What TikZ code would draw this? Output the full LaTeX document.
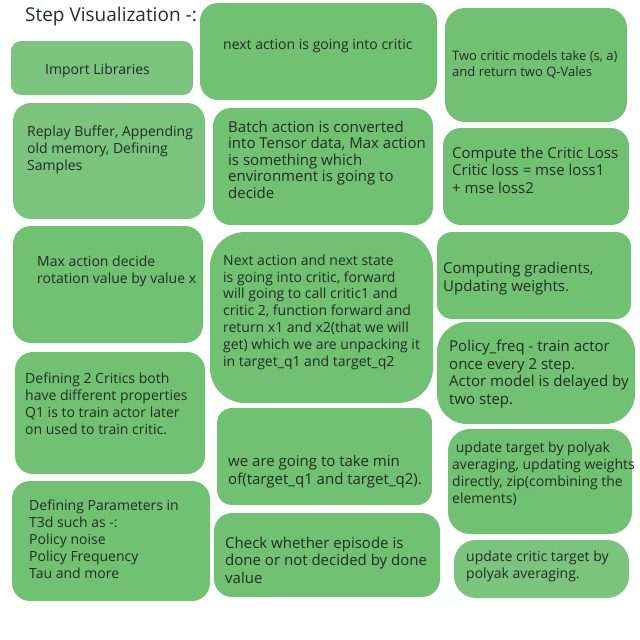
\documentclass[tikz,border=0pt]{standalone}
\usepackage{fontspec}
\setmainfont{Open Sans}
\usepackage{tikz}

\definecolor{stepgreen}{HTML}{71C173}
\definecolor{steplight}{HTML}{7BC47D}
\definecolor{steptxt}{HTML}{252B25}

\tikzset{
	stepbox/.style={fill=stepgreen, draw=none, inner sep=0pt, outer sep=0pt, rounded corners=18pt},
	lightbox/.style={stepbox, fill=steplight},
	% base anchor sits on the last line
	steptext/.style={anchor=base west, inner sep=0pt, align=left, text=steptxt,
		font=\fontsize{14}{16.8}\selectfont},
	bigtext/.style={steptext, font=\fontsize{15}{17.5}\selectfont},
}

\begin{document}
\begin{tikzpicture}[x=1pt, y=-1pt]
			\useasboundingbox (0,0) rectangle (640,640);
			\node (title) [anchor=base west, inner sep=0pt, text=steptxt, font=\fontsize{19}{22}\selectfont] at (25,21) {Step Visualization -:};

			% first column
			\node (imp) [lightbox, minimum width=182pt, minimum height=54pt, rounded corners=10pt] at (102,68) {};
			\node (rep) [lightbox, minimum width=192pt, minimum height=116pt] at (109,161) {};
			\node (maxa) [stepbox, minimum width=190pt, minimum height=117pt] at (108,284.5) {};
			\node (crit) [stepbox, minimum width=190pt, minimum height=122pt] at (110,413) {};
			\node (par) [stepbox, minimum width=198pt, minimum height=120pt] at (111,541) {};

			% second column
			\node (nxt) [stepbox, minimum width=237pt, minimum height=97pt] at (318.5,51.5) {};
			\node (bat) [stepbox, minimum width=220pt, minimum height=117pt] at (323,166.5) {};
			\node (fwd) [stepbox, minimum width=223pt, minimum height=171pt, rounded corners=35pt] at (321.5,317.5) {};
			\node (minq) [stepbox, minimum width=215pt, minimum height=97pt, rounded corners=15pt] at (324.5,456.5) {};
			\node (done) [stepbox, minimum width=226pt, minimum height=84pt] at (327,555) {};

			% third column
			\node (twoq) [stepbox, minimum width=182pt, minimum height=114pt, rounded corners=20pt] at (536,65) {};
			\node (loss) [stepbox, minimum width=186pt, minimum height=97pt] at (536,176.5) {};
			\node (grad) [stepbox, minimum width=194pt, minimum height=87pt, rounded corners=15pt] at (534,275.5) {};
			\node (pol) [stepbox, minimum width=198pt, minimum height=102pt, rounded corners=30pt] at (536,373) {};
			\node (polyak) [stepbox, minimum width=184pt, minimum height=105pt, rounded corners=22pt] at (540,481.5) {};
			\node (ctgt) [lightbox, minimum width=175pt, minimum height=58pt, rounded corners=22pt] at (541.5,569) {};

			% texts
			\node (imp-t) [steptext] at (45,74) {Import Libraries};
			\node (rep-t) [steptext] at (27,170) {Replay Buffer, Appending\\old memory, Defining\\Samples};
			\node (maxa-t) [steptext] at (37,283) {Max action decide\\rotation value by value x};
			\node (crit-t) [steptext] at (25,434) {Defining 2 Critics both\\have different properties\\Q1 is to train actor later\\on used to train critic.};
			\node (par-t) [steptext] at (29,578) {Defining Parameters in\\T3d such as -:\\Policy noise\\Policy Frequency\\Tau and more};

			\node (nxt-t) [steptext] at (223,49) {next action is going into critic};
			\node (bat-t) [bigtext, font=\fontsize{15}{16.5}\selectfont] at (228,198) {Batch action is converted\\into Tensor data, Max action\\is something which\\environment is going to\\decide};
			\node (fwd-t) [steptext] at (223,366) {Next action and next state\\is going into critic, forward\\will going to call critic1 and\\critic 2, function forward and\\return x1 and x2(that we will\\get) which we are unpacking it\\in target\_q1 and target\_q2};
			\node (minq-t) [bigtext] at (228,484) {we are going to take min\\of(target\_q1 and target\_q2).};
			\node (done-t) [bigtext] at (225,583) {Check whether episode is\\done or not decided by done\\value};

			\node (twoq-t) [steptext, font=\fontsize{13}{16}\selectfont] at (452,76) {Two critic models take (s, a)\\and return two Q-Vales};
			\node (loss-t) [bigtext] at (452,193) {Compute the Critic Loss\\Critic loss = mse loss1\\+ mse loss2};
			\node (grad-t) [bigtext] at (443,291) {Computing gradients,\\Updating weights.};
			\node (pol-t) [bigtext] at (449,404) {Policy\_freq - train actor\\once every 2 step.\\Actor model is delayed by\\two step.};
			\node (polyak-t) [steptext] at (452,503) {\ update target by polyak\\averaging, updating weights\\directly, zip(combining the\\elements)};
			\node (ctgt-t) [steptext] at (466,578) {update critic target by\\polyak averaging.};
		\end{tikzpicture}
\end{document}
